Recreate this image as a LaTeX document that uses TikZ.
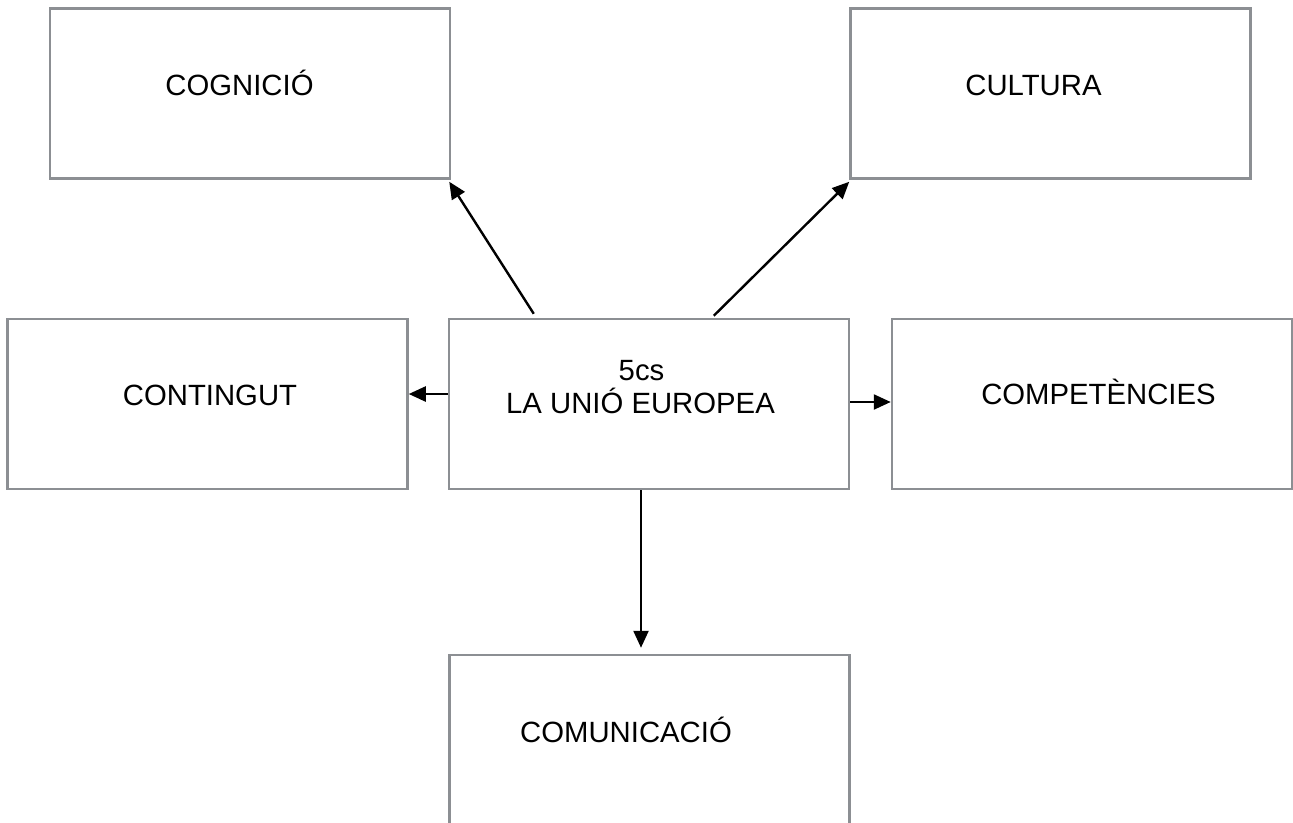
\documentclass[tikz,border=0pt]{standalone}
\usepackage{fontspec}
\setmainfont{Liberation Sans}
\usetikzlibrary{arrows.meta,calc}
\definecolor{boxgray}{HTML}{8C8F93}
\begin{document}
\begin{tikzpicture}[x=1pt,y=-1pt,
  boxnode/.style={draw=boxgray,line width=2.5pt,rectangle,inner sep=0pt,minimum width=400pt,minimum height=170pt,fill=white},
  lbl/.style={anchor=base,inner sep=0pt,font=\fontsize{29.3}{33}\selectfont},
  arr/.style={line width=2.4pt,draw=black,-{Triangle[length=17pt,width=15pt]}}]
\useasboundingbox (0,0) rectangle (1293,822);
\clip (0,0) rectangle (1293,822);
\node[boxnode] (cog) at (250,93.5) {};
\node[boxnode] (cul) at (1050.5,93.5) {};
\node[boxnode] (cont) at (207.5,404) {};
\node[boxnode] (ctr) at (649,404) {};
\node[boxnode] (comp) at (1092,404) {};
\node[boxnode,minimum height=190pt] (comm) at (649.5,750) {};
\node[lbl] (tcog) at (239.5,95) {COGNICIÓ};
\node[lbl] (tcul) at (1033.5,95) {CULTURA};
\node[lbl] (tcont) at (210,405) {CONTINGUT};
\node[lbl] (tcomp) at (1098.5,404) {COMPETÈNCIES};
\node[lbl] (tctra) at (641.5,380) {5cs};
\node[lbl] (tctrb) at (640.5,413) {LA UNIÓ EUROPEA};
\node[lbl] (tcomm) at (626,742) {COMUNICACIÓ};
\draw[arr] ($(ctr.north west)+(86,-4)$) -- ($(cog.south east)+(-2,2)$);
\draw[arr] ($(ctr.north west)+(266,-2)$) -- ($(cul.south west)+(0,2)$);
\draw[arr] ([yshift=10pt]ctr.west) -- ([yshift=10pt]cont.east);
\draw[arr] ([yshift=2pt]ctr.east) -- ([yshift=2pt]comp.west);
\draw[arr] ([xshift=-8pt]ctr.south) -- ($(comm.north)+(-8.5,-6)$);
\end{tikzpicture}
\end{document}
